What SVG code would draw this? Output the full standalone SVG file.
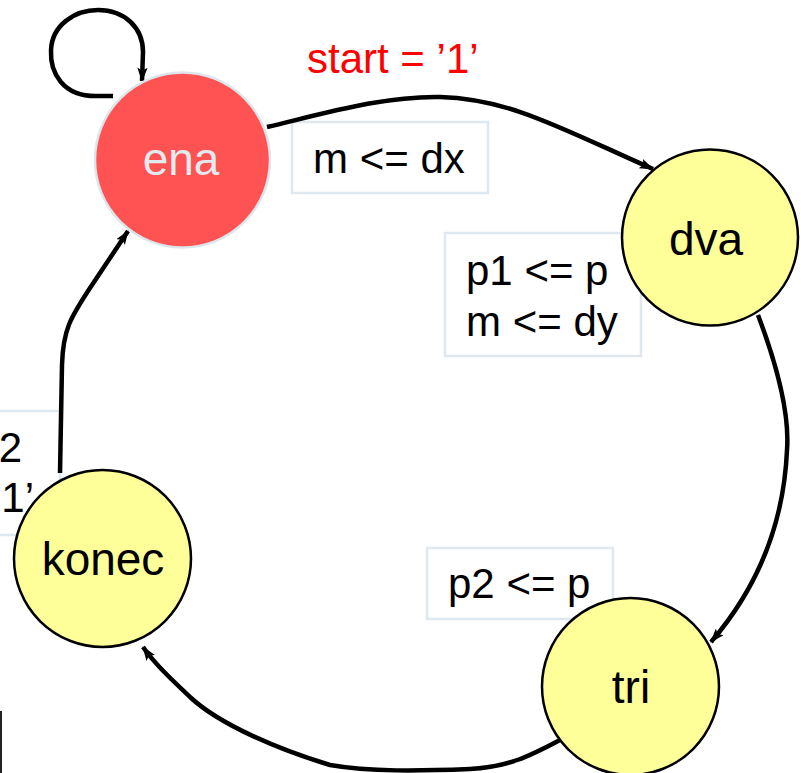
<svg xmlns="http://www.w3.org/2000/svg" width="801" height="773" viewBox="0 0 801 773">
<defs>
<style>
.lbl{font-family:"Liberation Sans",Arial,sans-serif;font-size:42px;fill:#000}
.nt{font-family:"Liberation Sans",Arial,sans-serif;font-size:46px;text-anchor:middle;fill:#000}
.box{fill:#fff;stroke:#dfe8ee;stroke-width:2.5}
.yel{fill:#ffff99;stroke:#000;stroke-width:2.5}
.edge{fill:none;stroke:#000;stroke-width:4.5;marker-end:url(#ah)}
</style>
<marker id="ah" viewBox="0 0 14 10" refX="13" refY="5" markerWidth="3.2" markerHeight="2.3" orient="auto" markerUnits="strokeWidth">
<path d="M0,0 L14,5 L0,10 L3,5 Z" fill="#000"/>
</marker>
</defs>
<rect width="801" height="773" fill="#fff"/>
<g id="labels">
<rect class="box" x="-10" y="411" width="70" height="124"/>
<text class="lbl" x="22" y="462" text-anchor="end">2</text>
<text class="lbl" x="34" y="512" text-anchor="end">‘1’</text>
<rect class="box" x="292" y="122" width="196" height="71"/>
<text class="lbl" x="313" y="173">m &lt;= dx</text>
<rect class="box" x="445" y="233" width="196" height="123"/>
<text class="lbl" x="466" y="285">p1 &lt;= p</text>
<text class="lbl" x="466" y="336">m &lt;= dy</text>
<rect class="box" x="427" y="548" width="186" height="71"/>
<text class="lbl" x="448" y="598">p2 &lt;= p</text>
<text class="lbl" x="307" y="73" style="fill:#ff0000">start = ’1’</text>
</g>
<rect x="0" y="711" width="2" height="62" fill="#222"/>
<g id="connectors">
<path class="edge" d="M113,96 L100,96 C62,98 50,72 51,50 C52,25 75,10 98,10 C125,10 143,28 143,52 L142,81"/>
<path class="edge" d="M267,127 C330,112 385,96 440,97 C510,99 560,128 653,169"/>
<path class="edge" d="M758,315 C775,360 790,410 787,450 C784,520 760,585 711,642"/>
<path class="edge" d="M560,740 C530,756 508,767 470,769 C420,771 370,772 330,765 C280,750 220,725 190,697 C170,678 155,664 143,647"/>
<path class="edge" d="M60,473 L62,365 C63,330 70,318 92,285 L128,231"/>
</g>
<g id="ena">
<circle cx="182.5" cy="160" r="87.5" fill="#ff5252" stroke="#dbe6ec" stroke-width="2.5"/>
<text class="nt" x="181" y="175" style="fill:#e3eaee">ena</text>
</g>
<g id="dva">
<circle class="yel" cx="710" cy="237.5" r="88"/>
<text class="nt" x="706" y="255">dva</text>
</g>
<g id="tri">
<circle class="yel" cx="630.5" cy="686.5" r="88.5"/>
<text class="nt" x="631" y="703">tri</text>
</g>
<g id="konec">
<circle class="yel" cx="102.5" cy="558.5" r="88.5"/>
<text class="nt" x="103" y="575">konec</text>
</g>
</svg>
